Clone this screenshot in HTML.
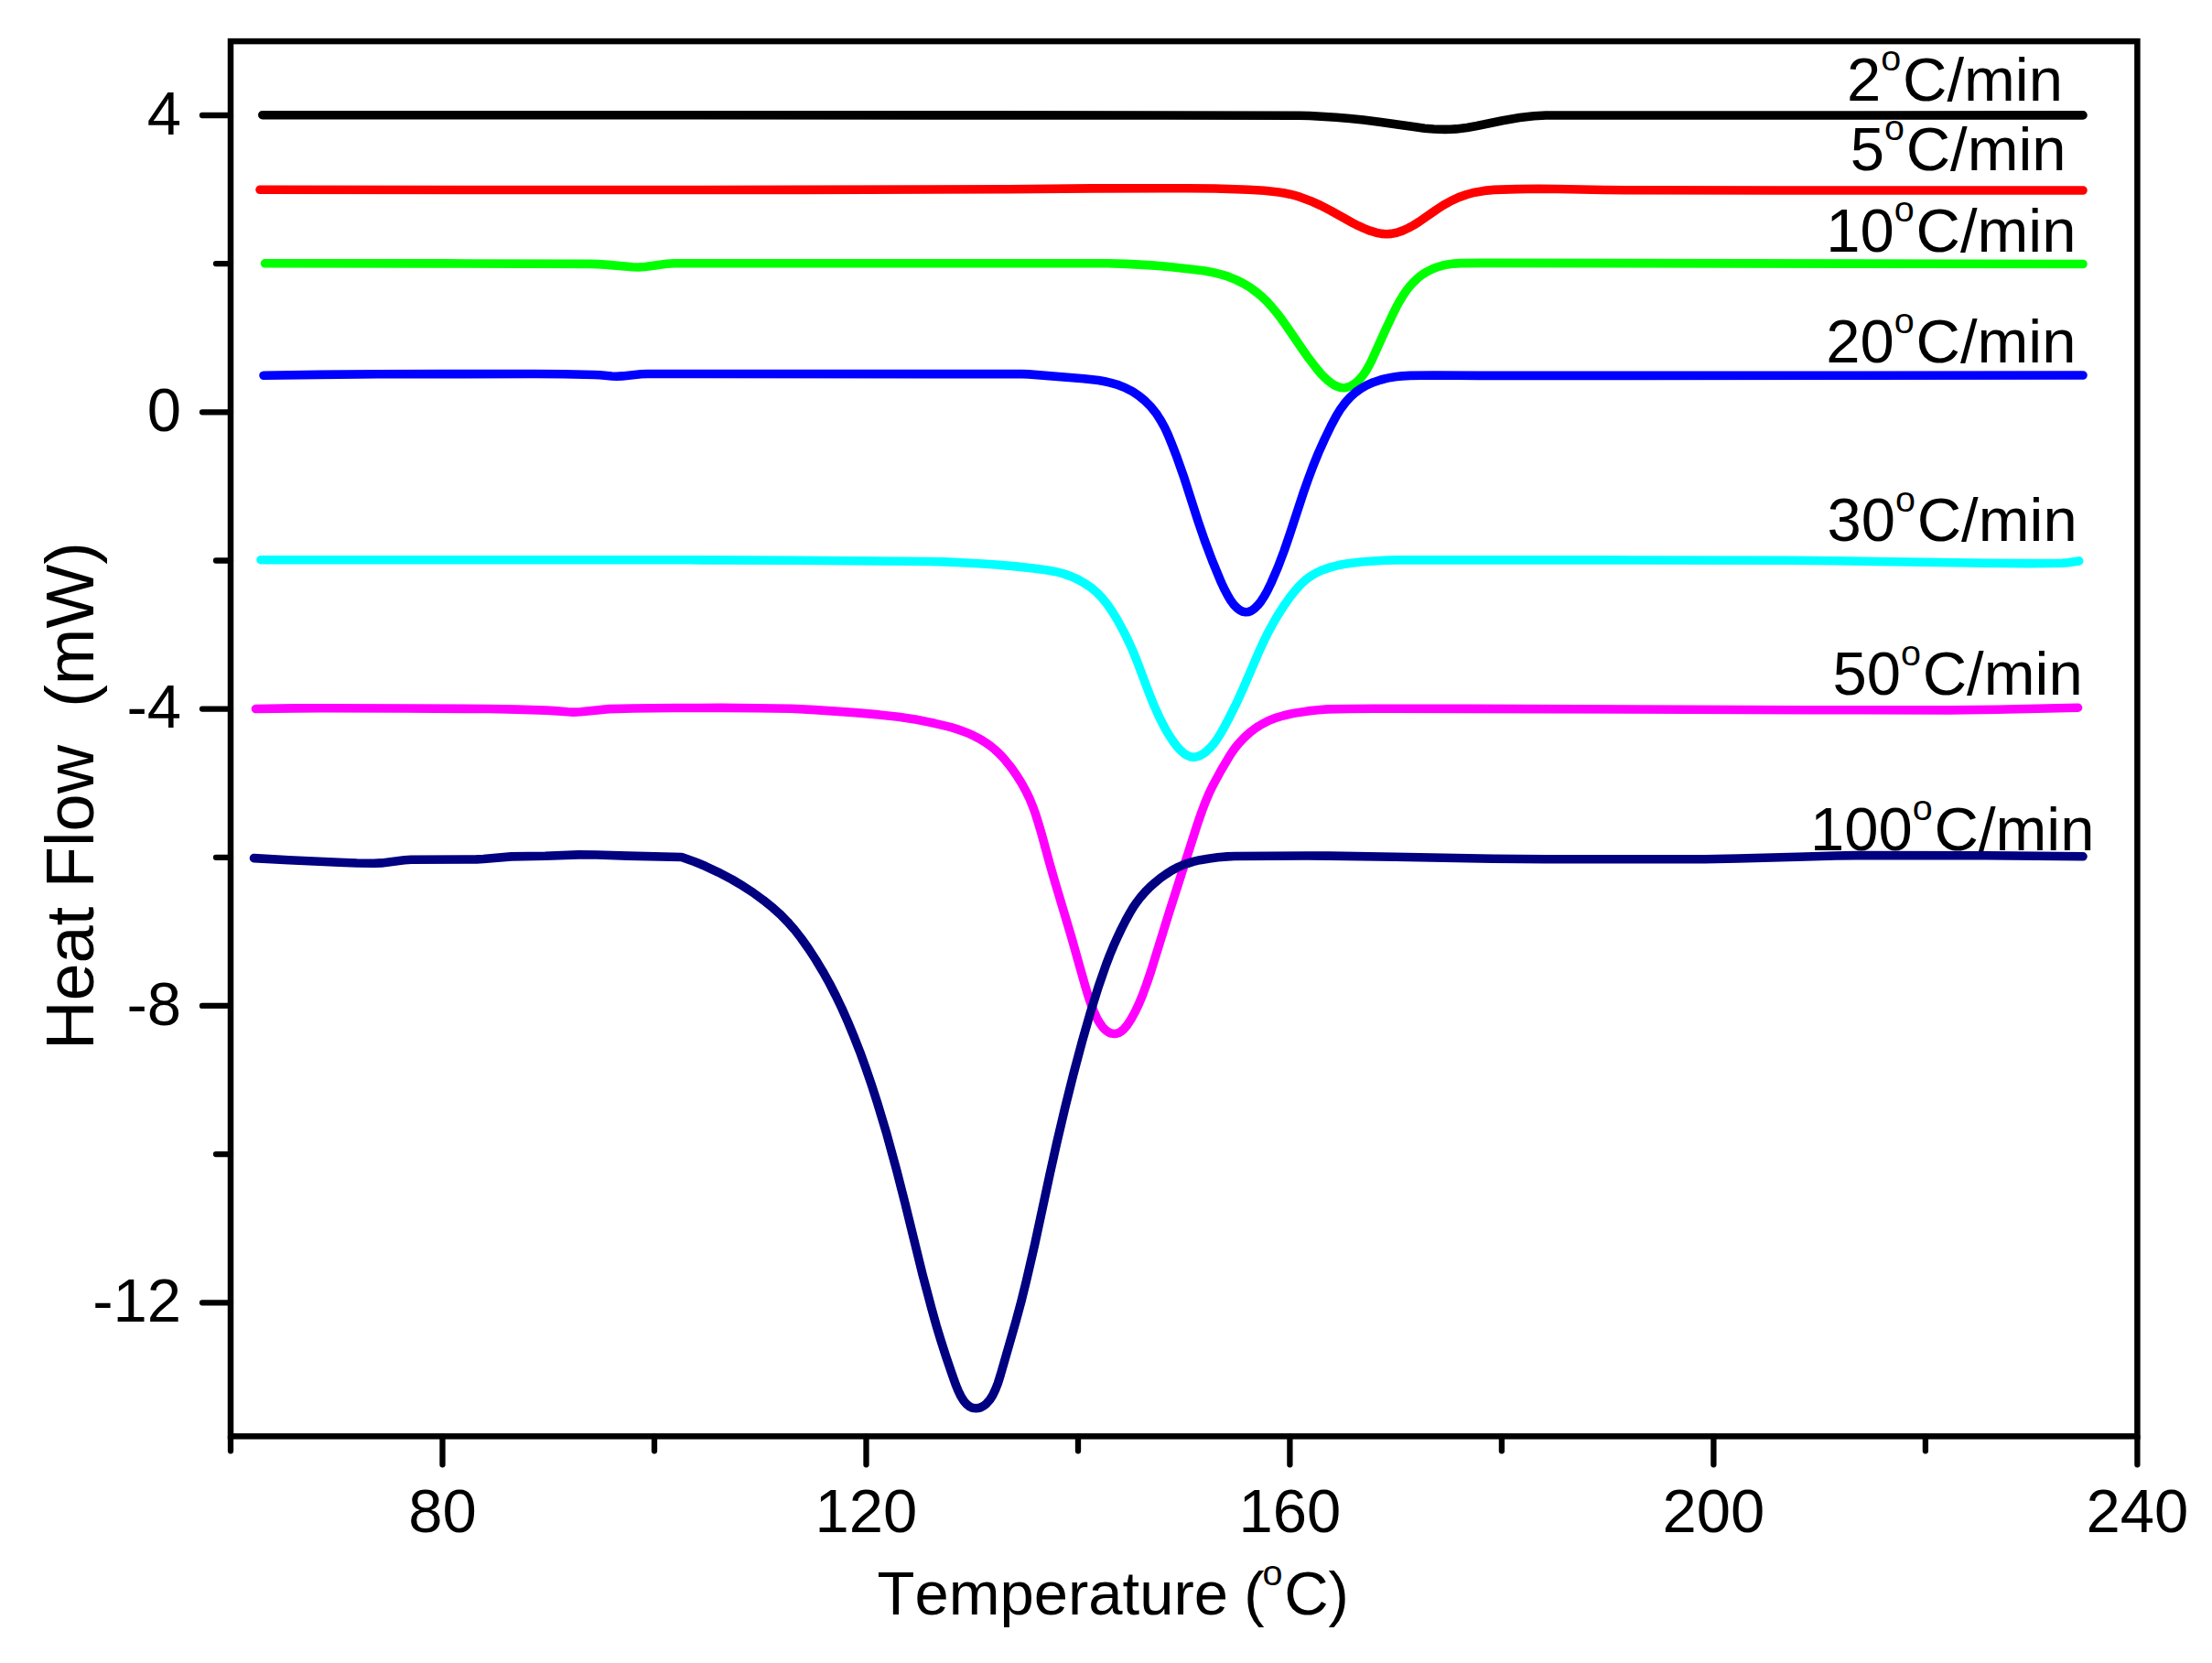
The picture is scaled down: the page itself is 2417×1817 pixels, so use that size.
<!DOCTYPE html>
<html><head><meta charset="utf-8"><title>Heat Flow vs Temperature</title>
<style>
html,body{margin:0;padding:0;background:#fff;overflow:hidden}
svg{display:block}
text{font-family:"Liberation Sans",sans-serif;fill:#000;font-kerning:none;font-variant-ligatures:none}
</style></head>
<body>
<svg width="2417" height="1817" viewBox="0 0 2417 1817">
<rect width="2417" height="1817" fill="#fff"/>
<g fill="none" stroke-width="9.6" stroke-linecap="round" stroke-linejoin="round">
<path d="M286.8,125.7L1068.4,125.9L1420.0,126.2L1431.0,126.5L1443.5,127.2L1459.9,128.2L1474.9,129.5L1489.8,131.1L1507.2,133.2L1544.8,138.6L1556.7,140.2L1566.6,141.0L1579.1,141.4L1585.1,141.3L1591.1,140.9L1603.0,139.4L1613.9,137.5L1641.8,131.7L1660.5,128.6L1675.9,126.8L1689.4,126.0L2276.0,125.9" stroke="#000000"/>
<path d="M284.0,207.3L591.1,207.5L876.6,207.4L1101.7,206.8L1192.7,205.9L1297.7,205.7L1327.7,206.0L1364.2,207.2L1381.7,208.2L1397.1,210.0L1403.5,211.0L1409.4,212.2L1415.2,213.7L1421.0,215.4L1431.8,219.4L1443.1,224.5L1454.2,230.3L1477.9,243.5L1484.2,246.7L1490.1,249.4L1497.1,252.2L1503.8,254.2L1509.6,255.4L1515.0,255.8L1520.4,255.4L1526.2,254.2L1532.4,252.1L1539.2,249.0L1544.5,246.1L1550.5,242.4L1569.0,229.5L1577.0,224.3L1585.8,219.4L1593.9,215.6L1602.4,212.6L1611.5,210.2L1621.9,208.4L1632.3,207.4L1657.9,206.6L1680.9,206.3L1701.9,206.5L1752.9,207.5L1776.4,207.8L1944.9,208.0L2276.0,208.0" stroke="#ff0000"/>
<path d="M289.5,287.8L487.6,287.9L645.0,288.4L652.5,288.6L661.5,289.1L691.4,291.7L697.4,292.0L704.8,291.5L728.6,288.2L736.6,287.7L1210.6,287.8L1230.6,288.4L1258.6,289.9L1277.5,291.5L1302.4,294.2L1314.8,295.8L1324.7,297.5L1333.4,299.6L1342.0,302.2L1350.4,305.6L1358.0,309.4L1365.3,313.7L1372.6,319.0L1378.4,323.8L1384.2,329.3L1389.6,335.2L1395.0,341.7L1399.9,348.1L1405.7,356.2L1423.5,382.3L1430.2,391.7L1437.6,401.4L1443.8,408.8L1447.3,412.4L1450.7,415.5L1453.8,418.0L1457.1,420.2L1460.1,421.8L1462.7,422.8L1465.5,423.5L1468.2,423.7L1471.0,423.4L1474.2,422.5L1477.2,421.1L1480.5,418.9L1483.5,416.4L1486.7,413.2L1489.5,409.7L1492.1,406.0L1495.2,400.8L1498.5,394.5L1513.4,361.6L1521.0,345.2L1525.9,335.3L1529.5,328.7L1532.9,323.2L1536.5,317.8L1540.2,313.1L1544.6,308.3L1549.3,303.8L1554.0,300.1L1559.1,296.9L1564.3,294.2L1569.9,292.0L1575.6,290.3L1581.9,288.9L1588.4,288.1L1595.4,287.6L1622.0,287.4L2276.0,288.5" stroke="#00ff00"/>
<path d="M288.0,410.2L347.5,409.4L413.0,408.8L485.5,408.6L584.5,408.5L616.0,408.8L649.5,409.5L655.5,409.8L668.5,411.0L673.5,411.2L680.0,410.9L700.4,408.8L707.4,408.5L1116.9,408.6L1123.9,408.9L1184.3,413.7L1200.2,415.6L1207.1,416.8L1213.0,418.1L1222.1,420.7L1230.0,423.9L1237.5,427.8L1244.5,432.5L1251.5,438.3L1257.8,444.7L1263.4,451.7L1268.3,459.3L1272.2,466.3L1276.0,474.4L1280.4,485.1L1285.1,497.2L1293.3,520.3L1308.9,568.9L1316.2,590.2L1324.8,613.1L1334.6,636.8L1338.3,644.6L1341.6,650.8L1345.0,656.4L1348.3,660.8L1351.8,664.4L1354.8,666.7L1358.2,668.3L1361.3,668.8L1364.5,668.4L1366.2,667.8L1367.9,667.0L1371.0,664.7L1374.5,661.2L1377.9,656.9L1381.5,651.4L1385.2,644.7L1388.9,637.0L1396.3,619.9L1403.2,601.6L1409.2,584.1L1424.8,536.6L1429.8,522.5L1434.7,509.4L1440.7,494.6L1447.5,479.5L1454.5,465.0L1460.4,454.0L1465.2,446.3L1470.3,439.5L1475.3,434.0L1480.8,429.0L1486.9,424.6L1493.4,420.9L1500.7,417.7L1508.8,415.0L1514.1,413.6L1520.0,412.4L1525.9,411.5L1531.9,410.9L1540.9,410.4L1567.4,410.0L1614.9,410.4L1702.9,410.4L2024.5,410.3L2276.0,410.0" stroke="#0000ff"/>
<path d="M285.0,611.7L753.6,611.8L866.1,612.3L1015.7,613.5L1032.2,613.9L1050.7,614.7L1070.1,615.7L1088.6,617.0L1110.0,618.9L1129.4,620.9L1142.8,622.7L1152.7,624.4L1161.4,626.6L1169.9,629.6L1177.6,633.0L1185.5,637.5L1192.5,642.3L1198.6,647.4L1204.1,653.1L1209.5,659.7L1215.2,668.0L1221.2,677.8L1227.4,689.2L1233.2,700.9L1237.7,710.9L1242.1,721.6L1255.7,757.6L1260.9,770.6L1267.3,784.8L1273.8,797.2L1278.0,804.2L1282.2,810.5L1286.2,815.7L1290.3,820.2L1294.0,823.4L1297.3,825.4L1300.7,826.8L1302.5,827.1L1304.4,827.2L1307.6,826.8L1311.2,825.6L1315.1,823.4L1318.7,820.6L1322.4,817.1L1326.0,812.9L1329.6,808.0L1333.2,802.4L1337.2,795.3L1342.2,786.0L1351.4,767.6L1358.6,751.7L1375.4,712.6L1380.4,701.7L1385.0,692.3L1390.7,681.7L1396.8,671.3L1403.3,661.2L1410.0,651.8L1415.9,644.4L1421.3,638.5L1426.8,633.4L1432.4,629.3L1438.4,625.8L1445.2,622.7L1452.8,620.1L1461.5,617.8L1467.9,616.5L1474.3,615.5L1489.3,613.8L1512.7,612.3L1529.2,611.8L1755.8,611.9L1950.8,612.3L2004.8,612.8L2171.9,615.3L2217.4,615.6L2253.4,615.3L2259.4,614.7L2271.7,612.9" stroke="#00ffff"/>
<path d="M279.4,774.5L322.4,773.9L351.4,773.8L442.4,774.0L534.4,774.5L564.4,775.1L596.9,776.1L605.4,776.6L620.4,777.8L626.3,778.1L634.3,777.7L665.7,774.6L691.6,774.0L737.1,773.5L787.7,773.4L826.7,773.7L864.7,774.3L890.6,775.6L934.6,778.6L960.5,780.9L981.8,783.3L1001.6,786.3L1021.2,790.3L1031.0,792.6L1039.2,794.7L1046.4,796.9L1053.0,799.2L1058.5,801.4L1064.0,803.9L1069.3,806.7L1074.1,809.5L1078.7,812.5L1082.7,815.4L1086.9,818.9L1091.0,822.6L1095.2,826.9L1099.1,831.4L1103.2,836.5L1107.1,841.7L1111.1,847.5L1115.1,853.9L1118.6,859.9L1121.9,866.1L1125.3,873.3L1128.5,881.2L1131.6,889.7L1134.6,899.2L1138.1,911.2L1146.8,943.0L1152.0,961.3L1170.5,1023.1L1185.7,1077.0L1189.2,1088.6L1192.5,1098.1L1195.4,1105.6L1198.4,1112.1L1201.4,1117.3L1204.5,1121.8L1207.9,1125.3L1211.0,1127.6L1212.7,1128.5L1214.4,1129.1L1217.6,1129.5L1219.4,1129.3L1221.2,1128.9L1222.9,1128.2L1224.5,1127.2L1226.5,1125.8L1228.2,1124.1L1231.8,1119.8L1236.0,1113.4L1239.9,1106.3L1244.1,1097.6L1248.2,1087.8L1252.7,1075.6L1257.7,1060.9L1277.8,996.0L1308.6,899.8L1313.2,886.6L1317.5,875.3L1321.4,866.1L1325.8,857.2L1334.2,841.8L1343.9,825.4L1346.9,820.9L1350.2,816.4L1353.3,812.6L1356.7,808.9L1360.9,804.6L1365.4,800.6L1370.1,796.9L1374.6,793.8L1379.3,791.0L1384.2,788.4L1389.2,786.2L1394.8,784.1L1402.0,782.0L1410.3,780.0L1419.1,778.4L1429.1,776.9L1440.0,775.8L1451.0,774.9L1473.5,774.5L1500.0,774.3L1607.0,774.4L1975.0,775.7L2130.5,775.9L2182.0,775.3L2270.5,773.2" stroke="#ff00ff"/>
<path d="M277.5,937.6L315.5,939.7L370.5,942.2L390.0,943.0L408.5,943.3L416.9,942.9L441.8,939.8L449.3,939.2L520.8,938.9L528.3,938.5L558.7,935.9L595.8,935.3L632.3,933.9L651.8,934.0L685.8,935.1L744.8,936.5L744.8,936.5L758.9,941.5L770.5,946.3L784.9,953.1L800.0,961.0L811.6,967.9L822.5,975.0L834.2,983.6L844.7,992.1L852.9,999.4L860.6,1007.3L868.2,1015.9L875.6,1025.4L883.4,1036.4L891.3,1048.5L899.1,1061.4L906.4,1074.5L913.2,1087.8L919.9,1101.8L926.6,1116.9L933.1,1132.6L939.7,1149.4L946.0,1166.8L952.3,1185.2L958.6,1204.7L969.1,1239.7L979.5,1277.8L988.8,1314.1L1008.0,1392.3L1018.0,1430.0L1023.1,1448.3L1028.5,1466.0L1033.7,1482.2L1041.0,1503.6L1044.4,1513.2L1047.3,1520.2L1050.2,1526.0L1053.1,1530.6L1056.3,1534.3L1059.3,1536.7L1061.0,1537.6L1062.7,1538.2L1064.6,1538.6L1066.5,1538.8L1068.4,1538.6L1070.2,1538.2L1072.0,1537.6L1074.2,1536.4L1076.2,1535.1L1078.0,1533.4L1081.6,1529.3L1084.8,1524.3L1087.6,1518.4L1090.4,1511.2L1093.3,1502.0L1110.3,1442.8L1116.0,1421.6L1121.4,1399.7L1130.6,1359.8L1147.2,1282.5L1154.9,1247.9L1163.6,1210.9L1172.8,1174.0L1182.6,1137.3L1191.8,1105.1L1200.3,1077.9L1208.5,1054.2L1212.6,1043.5L1216.6,1033.8L1220.9,1024.2L1225.2,1015.1L1229.9,1005.8L1234.3,997.9L1238.4,991.0L1242.4,985.3L1246.7,979.7L1251.3,974.5L1256.6,969.2L1262.2,964.2L1268.0,959.4L1274.1,955.1L1280.0,951.3L1285.7,948.2L1291.6,945.5L1297.7,943.3L1303.9,941.4L1311.2,939.7L1320.1,938.2L1330.5,936.8L1341.0,935.9L1349.0,935.5L1428.0,935.0L1452.5,935.1L1524.0,936.2L1631.0,938.3L1689.5,938.8L1843.0,938.8L1863.0,938.7L1899.0,938.0L1964.0,936.3L2006.0,935.0L2027.5,934.6L2171.0,934.8L2226.0,935.2L2276.0,935.8" stroke="#000080"/>
</g>
<rect x="252.0" y="45.1" width="2083.4" height="1524.2" fill="none" stroke="#000" stroke-width="6.5"/>
<path d="M252.0,1569.3v16.0M483.5,1569.3v31.0M715.0,1569.3v16.0M946.5,1569.3v31.0M1178.0,1569.3v16.0M1409.4,1569.3v31.0M1640.9,1569.3v16.0M1872.4,1569.3v31.0M2103.9,1569.3v16.0M2335.4,1569.3v31.0M252.0,1423.3h-31.0M252.0,1261.1h-16.0M252.0,1098.9h-31.0M252.0,936.8h-16.0M252.0,774.6h-31.0M252.0,612.5h-16.0M252.0,450.3h-31.0M252.0,288.1h-16.0M252.0,126.0h-31.0" fill="none" stroke="#000" stroke-width="6.3" stroke-linecap="round"/>
<text x="483.5" y="1674" text-anchor="middle" font-size="67">80</text><text x="946.5" y="1674" text-anchor="middle" font-size="67">120</text><text x="1409.4" y="1674" text-anchor="middle" font-size="67">160</text><text x="1872.4" y="1674" text-anchor="middle" font-size="67">200</text><text x="2335.4" y="1674" text-anchor="middle" font-size="67">240</text>
<text x="198" y="146.6" text-anchor="end" font-size="67">4</text><text x="198" y="470.9" text-anchor="end" font-size="67">0</text><text x="198" y="795.2" text-anchor="end" font-size="67">-4</text><text x="198" y="1119.5" text-anchor="end" font-size="67">-8</text><text x="198" y="1443.9" text-anchor="end" font-size="67">-12</text>
<text x="2254" y="109.8" text-anchor="end" font-size="67">2<tspan font-size="39.5" dy="-32.5">o</tspan><tspan dy="32.5" dx="1.7">C/min</tspan></text><text x="2257.6" y="185.8" text-anchor="end" font-size="67">5<tspan font-size="39.5" dy="-32.5">o</tspan><tspan dy="32.5" dx="1.7">C/min</tspan></text><text x="2268.5" y="274.8" text-anchor="end" font-size="67">10<tspan font-size="39.5" dy="-32.5">o</tspan><tspan dy="32.5" dx="1.7">C/min</tspan></text><text x="2268.5" y="396" text-anchor="end" font-size="67">20<tspan font-size="39.5" dy="-32.5">o</tspan><tspan dy="32.5" dx="1.7">C/min</tspan></text><text x="2269.7" y="591.3" text-anchor="end" font-size="67">30<tspan font-size="39.5" dy="-32.5">o</tspan><tspan dy="32.5" dx="1.7">C/min</tspan></text><text x="2275.7" y="759.2" text-anchor="end" font-size="67">50<tspan font-size="39.5" dy="-32.5">o</tspan><tspan dy="32.5" dx="1.7">C/min</tspan></text><text x="2288.5" y="928.9" text-anchor="end" font-size="67">100<tspan font-size="39.5" dy="-32.5">o</tspan><tspan dy="32.5" dx="1.7">C/min</tspan></text>
<text x="958.5" y="1764" font-size="67" xml:space="preserve">Temperature <tspan dx="-1.5">(</tspan><tspan font-size="39.5" dy="-32.5" dx="-2">o</tspan><tspan dy="32.5" dx="1.7">C)</tspan></text>
<text transform="translate(102.4,1147) rotate(-90)" font-size="74" xml:space="preserve">Heat Flow  (mW)</text>
</svg>
</body></html>
